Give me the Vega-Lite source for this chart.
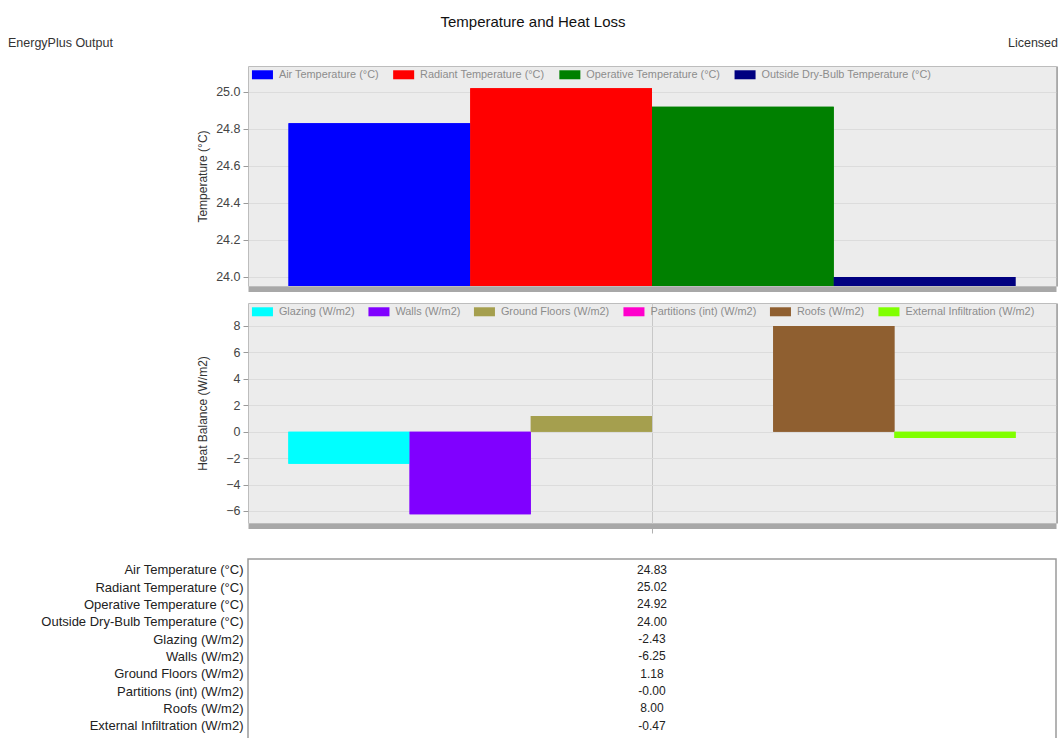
{
  "$schema": "https://vega.github.io/schema/vega-lite/v6.json",
  "background": "white",
  "padding": {"top": 15, "left": 8, "right": 0, "bottom": 0},
  "spacing": 12,
  "resolve": {"scale": {"color": "independent"}, "legend": {"color": "independent"}},
  "datasets": {
    "vals": [
      {"name": "Air Temperature (°C)", "value": 24.83, "shown": "24.83", "panel": "temp"},
      {"name": "Radiant Temperature (°C)", "value": 25.02, "shown": "25.02", "panel": "temp"},
      {"name": "Operative Temperature (°C)", "value": 24.92, "shown": "24.92", "panel": "temp"},
      {"name": "Outside Dry-Bulb Temperature (°C)", "value": 24.00, "shown": "24.00", "panel": "temp"},
      {"name": "Glazing (W/m2)", "value": -2.43, "shown": "-2.43", "panel": "heat"},
      {"name": "Walls (W/m2)", "value": -6.25, "shown": "-6.25", "panel": "heat"},
      {"name": "Ground Floors (W/m2)", "value": 1.18, "shown": "1.18", "panel": "heat"},
      {"name": "Partitions (int) (W/m2)", "value": -0.001, "shown": "-0.00", "panel": "heat"},
      {"name": "Roofs (W/m2)", "value": 8.00, "shown": "8.00", "panel": "heat"},
      {"name": "External Infiltration (W/m2)", "value": -0.47, "shown": "-0.47", "panel": "heat"}
    ],
    "header": [
      {"label": "EnergyPlus Output", "side": "left"},
      {"label": "Licensed", "side": "right"}
    ]
  },
  "vconcat": [
    {
      "width": 808,
      "height": 20,
      "title": {"text": "Temperature and Heat Loss", "fontSize": 15, "fontWeight": "normal", "anchor": "middle", "frame": "bounds", "color": "#111", "offset": 3, "font": "Liberation Sans"},
      "view": {"stroke": null, "fill": null},
      "data": {"name": "header"},
      "layer": [
        {
          "transform": [{"filter": "datum.side === 'left'"}],
          "mark": {"type": "text", "align": "left", "baseline": "middle", "fontSize": 12.5, "color": "#333"},
          "encoding": {
            "x": {"field": "side", "type": "nominal", "scale": {"type": "point", "domain": ["left", "right"], "range": [-240, 810], "padding": 0}, "axis": null},
            "text": {"field": "label"}
          }
        },
        {
          "transform": [{"filter": "datum.side === 'right'"}],
          "mark": {"type": "text", "align": "right", "baseline": "middle", "fontSize": 12.5, "color": "#333"},
          "encoding": {
            "x": {"field": "side", "type": "nominal", "scale": {"type": "point", "domain": ["left", "right"], "range": [-240, 810], "padding": 0}, "axis": null},
            "text": {"field": "label"}
          }
        }
      ]
    },
    {
      "width": 808,
      "height": 220,
      "data": {"name": "vals"},
      "transform": [{"filter": "datum.panel === 'temp'"}],
      "encoding": {
        "x": {"field": "name", "type": "nominal", "sort": null,
              "scale": {"paddingInner": 0, "paddingOuter": 0.223},
              "axis": {"labels": false, "ticks": false, "title": null, "grid": false, "domain": true, "domainColor": "#a8a8a8", "domainWidth": 5, "offset": 3}},
        "color": {"field": "name", "type": "nominal", "sort": null,
                  "scale": {"domain": ["Air Temperature (°C)", "Radiant Temperature (°C)", "Operative Temperature (°C)", "Outside Dry-Bulb Temperature (°C)"],
                            "range": ["#0000ff", "#ff0000", "#008000", "#000080"]},
                  "legend": {"orient": "top-left", "direction": "horizontal", "title": null, "offset": 2.5, "padding": 0,
                             "symbolType": "M-1,-1H3.67V1H-1Z", "symbolSize": 81, "symbolStrokeWidth": 0,
                             "labelFontSize": 10.9, "labelColor": "#8c8c8c", "labelOffset": 17, "columnPadding": 13.2, "labelLimit": 300}}
      },
      "layer": [
        {
          "mark": {"type": "bar", "clip": true},
          "encoding": {
            "y": {"field": "value", "type": "quantitative",
                  "scale": {"domain": [23.951, 25.14], "zero": false, "nice": false},
                  "axis": {"title": "Temperature (°C)", "values": [24, 24.2, 24.4, 24.6, 24.8, 25], "format": ".1f", "grid": true, "minExtent": 33, "titlePadding": 6}}
          }
        },
        {
          "mark": {"type": "bar", "clip": true},
          "encoding": {
            "y": {"field": "value", "type": "quantitative",
                  "axis": {"orient": "right", "labels": false, "ticks": false, "grid": false, "title": null, "domain": true, "domainColor": "#a8a8a8", "domainWidth": 3, "offset": 1.5}}
          }
        }
      ],
      "resolve": {"axis": {"y": "independent"}}
    },
    {
      "width": 808,
      "height": 220,
      "data": {"name": "vals"},
      "transform": [{"filter": "datum.panel === 'heat'"}],
      "encoding": {
        "x": {"field": "name", "type": "nominal", "sort": null,
              "scale": {"paddingInner": 0, "paddingOuter": 0.333},
              "axis": {"values": ["Partitions (int) (W/m2)"], "bandPosition": 0, "labels": false, "ticks": true, "tickSize": 7, "tickColor": "#b0b0b0", "title": null, "grid": true, "gridColor": "#c8c8c8", "domain": true, "domainColor": "#a8a8a8", "domainWidth": 5, "offset": 3, "minExtent": 19}},
        "color": {"field": "name", "type": "nominal", "sort": null,
                  "scale": {"domain": ["Glazing (W/m2)", "Walls (W/m2)", "Ground Floors (W/m2)", "Partitions (int) (W/m2)", "Roofs (W/m2)", "External Infiltration (W/m2)"],
                            "range": ["#00ffff", "#8000ff", "#a59f4e", "#ff00cc", "#8f5f30", "#80ff00"]},
                  "legend": {"orient": "top-left", "direction": "horizontal", "title": null, "offset": 2.5, "padding": 0,
                             "symbolType": "M-1,-1H3.67V1H-1Z", "symbolSize": 81, "symbolStrokeWidth": 0,
                             "labelFontSize": 10.9, "labelColor": "#8c8c8c", "labelOffset": 17, "columnPadding": 12.5, "labelLimit": 300}}
      },
      "layer": [
        {
          "mark": {"type": "bar", "clip": true},
          "encoding": {
            "y": {"field": "value", "type": "quantitative",
                  "scale": {"domain": [-6.91, 9.74], "zero": false, "nice": false},
                  "axis": {"title": "Heat Balance (W/m2)", "values": [-6, -4, -2, 0, 2, 4, 6, 8], "format": "d", "grid": true, "minExtent": 33, "titlePadding": 6}}
          }
        },
        {
          "mark": {"type": "bar", "clip": true},
          "encoding": {
            "y": {"field": "value", "type": "quantitative",
                  "axis": {"orient": "right", "labels": false, "ticks": false, "grid": false, "title": null, "domain": true, "domainColor": "#a8a8a8", "domainWidth": 3, "offset": 1.5}}
          }
        }
      ],
      "resolve": {"axis": {"y": "independent"}}
    },
    {
      "width": 808,
      "height": 180,
      "view": {"fill": "white", "stroke": "#9a9a9a", "strokeWidth": 1.5},
      "data": {"name": "vals"},
      "mark": {"type": "text", "fontSize": 12, "color": "#222"},
      "encoding": {
        "y": {"field": "name", "type": "nominal", "sort": null,
              "scale": {"type": "point", "padding": 0.694, "align": 0.45},
              "axis": {"title": null, "ticks": false, "domain": false, "grid": false, "labelFontSize": 13, "labelColor": "#222", "labelPadding": 5, "labelLimit": 400}},
        "text": {"field": "shown"}
      }
    }
  ],
  "config": {
    "font": "Liberation Sans",
    "view": {"stroke": "#bdbdbd", "fill": "#ececec"},
    "axis": {"labelColor": "#444", "titleColor": "#333", "labelFontSize": 12.5, "titleFontSize": 12, "titleFontWeight": "normal", "tickColor": "#9a9a9a", "tickSize": 5, "labelPadding": 3, "gridColor": "#dcdcdc", "domain": false},
    "legend": {"labelFont": "Liberation Sans"}
  }
}
